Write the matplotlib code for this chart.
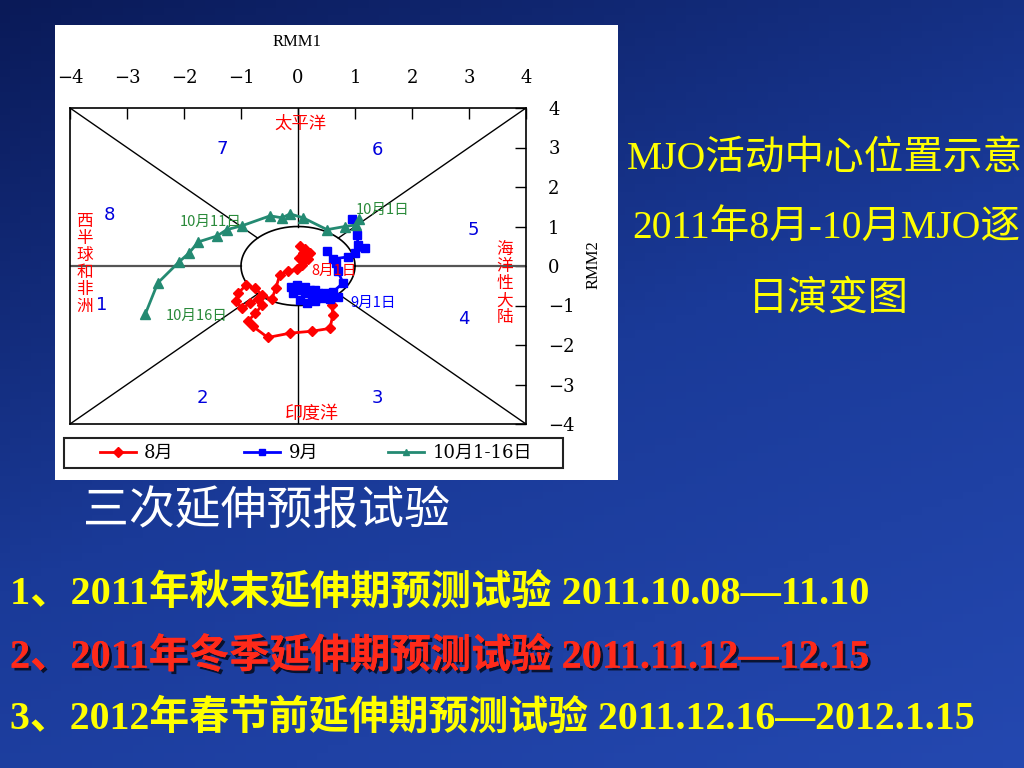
import numpy as np
import matplotlib
matplotlib.use("Agg")
from matplotlib import pyplot as plt
from matplotlib.colors import LinearSegmentedColormap
from matplotlib.patches import Rectangle
from matplotlib.font_manager import FontProperties
import matplotlib.patheffects as pe

# RMM1 / RMM2 daily values
aug_x = [0.09, 0.18, 0.21, 0.12, 0.04, 0.09, 0.02, 0.07, -0.02, -0.18, -0.32,
         -0.39, -0.46, -0.63, -0.75, -0.91, -1.05, -1.09, -0.98, -0.84, -0.70,
         -0.63, -0.75, -0.88, -0.79, -0.53, -0.14, 0.25, 0.56, 0.61, 0.60]
aug_y = [0.13, 0.18, 0.33, 0.43, 0.51, 0.33, 0.20, 0.03, -0.08, -0.13, -0.23,
         -0.56, -0.84, -0.74, -0.56, -0.48, -0.69, -0.89, -1.07, -0.94, -0.84,
         -0.99, -1.20, -1.40, -1.53, -1.81, -1.70, -1.65, -1.58, -1.25, -0.99]

sep_x = [0.70, 0.56, 0.42, 0.30, 0.16, 0.04, -0.09, -0.12, -0.02, 0.12, 0.25,
         0.35, 0.21, 0.07, -0.02, 0.12, 0.30, 0.47, 0.61, 0.79, 0.70, 0.67,
         0.51, 0.61, 0.88, 1.00, 1.18, 1.05, 1.04, 0.95]
sep_y = [-0.79, -0.84, -0.81, -0.89, -0.94, -0.87, -0.69, -0.53, -0.61, -0.69,
         -0.74, -0.69, -0.61, -0.56, -0.48, -0.53, -0.61, -0.69, -0.66, -0.43,
         -0.13, 0.08, 0.38, 0.18, 0.23, 0.33, 0.46, 0.53, 0.79, 1.20]

oct_x = [1.07, 1.02, 0.82, 0.51, 0.09, -0.14, -0.28, -0.49, -0.98, -1.25,
         -1.42, -1.75, -1.91, -2.09, -2.46, -2.68]
oct_y = [1.20, 1.04, 1.00, 0.92, 1.22, 1.32, 1.22, 1.27, 1.02, 0.92, 0.76,
         0.61, 0.33, 0.10, -0.43, -1.22]

ticks = [-4, -3, -2, -1, 0, 1, 2, 3, 4]
series_names = ['8月', '9月', '10月1-16日']

phase_nums = ['1', '2', '3', '4', '5', '6', '7', '8']
phase_pos = [(-3.44, -0.99), (-1.68, -3.33), (1.39, -3.33), (2.91, -1.35),
             (3.07, 0.92), (1.39, 2.93), (-1.33, 2.95), (-3.30, 1.30)]

cjk = ['Noto Sans CJK SC', 'DejaVu Sans']
slide_font = ['Liberation Serif', 'Noto Sans CJK SC']

fig = plt.figure(figsize=(10.24, 7.68), dpi=100)

# slide background gradient
bg = fig.add_axes([0, 0, 1, 1])
bg.set_zorder(-3)
yy, xx = np.mgrid[0:1:100j, 0:1:100j]
cmap = LinearSegmentedColormap.from_list('slide', ['#0a1a58', '#1a3a98', '#2448b0'])
bg.imshow(0.65 * yy + 0.35 * xx, cmap=cmap, aspect='auto', extent=[0, 1, 0, 1],
          origin='upper')
bg.set_xlim(0, 1)
bg.set_ylim(0, 1)
bg.axis('off')

# white panel behind the chart
fig.patches.append(Rectangle((55 / 1024, 1 - 480 / 768), 563 / 1024, 455 / 768,
                             transform=fig.transFigure, facecolor='white',
                             edgecolor='none', zorder=-2))
# legend frame
fig.patches.append(Rectangle((64 / 1024, 1 - 468 / 768), 499 / 1024, 30 / 768,
                             transform=fig.transFigure, facecolor='white',
                             edgecolor='#222222', lw=1.5, zorder=-1))

ax = fig.add_axes([70 / 1024, 1 - 424 / 768, 456 / 1024, 316 / 768])
ax.set_zorder(1)
ax.set_facecolor('white')
ax.set_xlim(-4, 4)
ax.set_ylim(-4, 4)
ax.set_xticks(ticks)
ax.set_yticks(ticks)
ax.xaxis.tick_top()
ax.yaxis.tick_right()
ax.tick_params(direction='in', length=8, width=1, colors='black')
ax.tick_params(axis='x', pad=15)
ax.tick_params(axis='y', pad=16)
for lab in ax.get_xticklabels() + ax.get_yticklabels():
    lab.set_fontfamily('DejaVu Serif')
    lab.set_fontsize(13)
for sp in ax.spines.values():
    sp.set_linewidth(1.2)

# phase diagram frame
ax.plot([-4, -1], [0, 0], color='#555555', lw=1.6)
ax.plot([1, 4], [0, 0], color='#555555', lw=1.6)
ax.plot([0, 0], [1, 4], color='black', lw=1)
ax.plot([0, 0], [-1, -4], color='black', lw=1)
r = np.sqrt(0.5)
for sx, sy in [(1, 1), (1, -1), (-1, 1), (-1, -1)]:
    ax.plot([sx * r, sx * 4], [sy * r, sy * 4], color='black', lw=1)
t = np.linspace(0, 2 * np.pi, 300)
ax.plot(np.cos(t), np.sin(t), color='black', lw=1.2)

l1, = ax.plot(aug_x, aug_y, color='#ff0000', lw=2, marker='D', ms=5)
l2, = ax.plot(sep_x, sep_y, color='#0000ff', lw=2, marker='s', ms=6)
l3, = ax.plot(oct_x, oct_y, color='#248a72', lw=2, marker='^', ms=7)

for num, (px, py) in zip(phase_nums, phase_pos):
    ax.text(px, py, num, color='#0000dd', fontsize=13, ha='center', va='center')

ax.text(0.04, 3.61, '太平洋', color='red', fontsize=12.5, family=cjk,
        ha='center', va='center')
ax.text(0.25, -3.74, '印度洋', color='red', fontsize=13, family=cjk,
        ha='center', va='center')
ax.text(-3.74, 0.05, '\n'.join('西半球和非洲'), color='red', fontsize=12,
        family=cjk, ha='center', va='center', linespacing=1.0)
ax.text(3.63, -0.45, '\n'.join('海洋性大陆'), color='red', fontsize=12,
        family=cjk, ha='center', va='center', linespacing=1.0)

ax.text(-1.54, 1.12, '10月11日', color='#2a8a3a', fontsize=10.5, family=cjk,
        ha='center', va='center')
ax.text(-1.77, -1.27, '10月16日', color='#2a8a3a', fontsize=10.5, family=cjk,
        ha='center', va='center')
ax.text(1.49, 1.42, '10月1日', color='#2a8a3a', fontsize=10.5, family=cjk,
        ha='center', va='center')
ax.text(0.63, -0.13, '8月1日', color='red', fontsize=10.5, family=cjk,
        ha='center', va='center')
ax.text(1.32, -0.94, '9月1日', color='#0000ff', fontsize=10.5, family=cjk,
        ha='center', va='center')

fig.text(297 / 1024, 1 - 42 / 768, 'RMM1', fontsize=12, family='Liberation Serif',
         ha='center', va='center')
fig.text(594 / 1024, 1 - 265 / 768, 'RMM2', fontsize=12, family='Liberation Serif',
         ha='center', va='center', rotation=90)

leg = fig.legend([l1, l2, l3], series_names, loc='center left',
                 bbox_to_anchor=(100 / 1024, 1 - 453 / 768),
                 ncol=3, frameon=False, handlelength=2.0, handletextpad=0.45,
                 columnspacing=3.9, borderpad=0, borderaxespad=0,
                 prop=FontProperties(family=['DejaVu Serif', 'Noto Sans CJK SC'],
                                     size=13))
leg.set_zorder(2)
for h in leg.legend_handles:
    h.set_markersize(5)

# slide texts
fig.text(627 / 1024, 1 - 160 / 768, 'MJO活动中心位置示意', color='#ffff00',
         fontsize=28.5, family=slide_font, ha='left', va='center')
fig.text(632 / 1024, 1 - 228 / 768, '2011年8月-10月MJO逐', color='#ffff00',
         fontsize=28.5, family=slide_font, ha='left', va='center')
fig.text(828 / 1024, 1 - 300 / 768, '日演变图', color='#ffff00',
         fontsize=29, family=slide_font, ha='center', va='center')

fig.text(266 / 1024, 1 - 512 / 768, '三次延伸预报试验', color='white',
         fontsize=33, family=slide_font, ha='center', va='center')

fig.text(10 / 1024, 1 - 594 / 768, '1、2011年秋末延伸期预测试验 2011.10.08—11.10',
         color='#ffff00', fontsize=29, family=slide_font, weight='bold',
         ha='left', va='center')
fig.text(10 / 1024, 1 - 657 / 768, '2、2011年冬季延伸期预测试验 2011.11.12—12.15',
         color='#ff2a1a', fontsize=29, family=slide_font, weight='bold',
         ha='left', va='center',
         path_effects=[pe.withSimplePatchShadow(offset=(2, -2), shadow_rgbFace='black',
                                                alpha=0.7), pe.Normal()])
fig.text(10 / 1024, 1 - 718 / 768, '3、2012年春节前延伸期预测试验 2011.12.16—2012.1.15',
         color='#ffff00', fontsize=28.7, family=slide_font, weight='bold',
         ha='left', va='center')

plt.savefig('out.png', dpi=100)
